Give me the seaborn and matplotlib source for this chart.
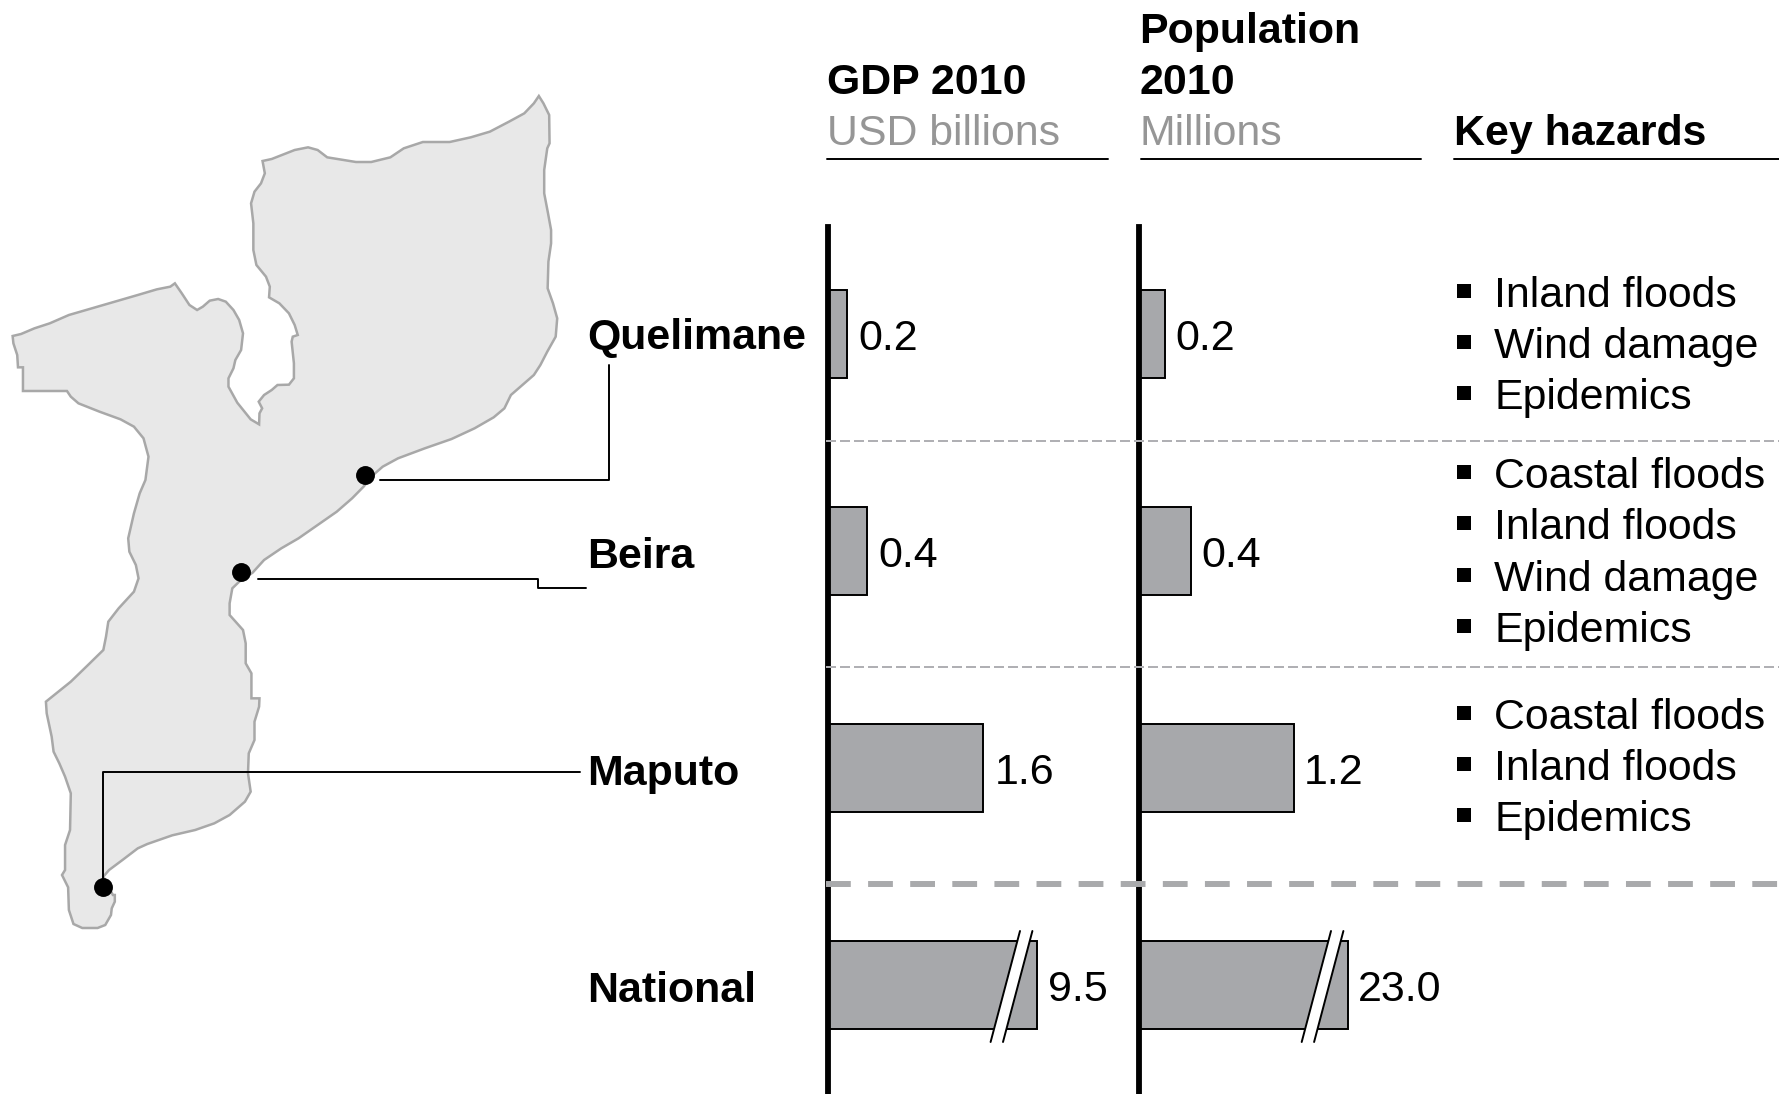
import numpy as np
import pandas as pd
import matplotlib
matplotlib.use('Agg')
import matplotlib.pyplot as plt
import seaborn as sns

# chart values
cities = ['Quelimane', 'Beira', 'Maputo', 'National']
gdp = [0.2, 0.4, 1.6, 9.5]
population = [0.2, 0.4, 1.2, 23.0]
hazards = [
	['Inland floods', 'Wind damage', 'Epidemics'],
	['Coastal floods', 'Inland floods', 'Wind damage', 'Epidemics'],
	['Coastal floods', 'Inland floods', 'Epidemics'],
]
hazard_y = [[296, 347, 398], [477, 528, 580, 631], [718, 769, 820]]

# map outline, traced in crop coordinates (see to_px)
outline_east = [(1408,48),(1420,70),(1435,105),(1436,190),(1430,205),(1422,270),(1422,340),(1432,400),(1440,450),(1440,490),(1433,545),(1431,625),(1445,670),(1456,715),(1452,770),(1430,815),(1412,855),(1395,885),(1365,915),(1335,945),(1318,985),(1290,1012),(1240,1045),(1180,1077),(1110,1105),(1040,1135),(1000,1160),(975,1185)]
outline_south = [(950,20),(920,55),(880,95),(830,135),(780,175),(735,205),(690,240),(660,278),(625,305),(607,325),(600,370),(600,405),(635,450),(642,490),(642,550),(657,580),(657,655),(678,655),(677,680),(665,725),(665,780),(650,820),(648,880),(655,935),(640,965),(600,1005),(560,1030),(510,1050),(450,1066),(385,1092),(360,1105),(320,1140),(285,1170),(270,1190),(295,1245),(300,1245),(300,1265),(292,1285),(290,1305),(275,1335),(255,1344),(215,1344),(192,1332),(180,1290),(178,1222),(162,1185),(170,1170),(170,1095),(183,1050),(185,940),(170,890),(155,850),(140,815),(135,770),(122,700),(120,665),(185,605),(230,555),(270,510),(277,470),(283,425),(310,385),(350,335),(362,295),(355,255),(338,215),(335,175),(350,100),(365,40),(380,0)]
outline_west = [(388,1130),(375,1075),(350,1040),(315,1018),(260,995),(205,970),(185,950),(175,933),(60,933),(60,862),(47,862),(45,825),(35,790),(33,768),(55,762),(90,745),(130,730),(180,705),(240,685),(300,665),(360,645),(410,628),(445,620),(457,610),(475,640),(495,675),(515,690),(530,680),(548,662),(570,657),(590,665),(610,690),(625,720),(635,760),(630,810),(615,840),(610,865),(597,895),(597,920),(620,968),(655,1018),(677,1033),(678,1000),(685,985),(676,965),(690,945),(710,930),(725,915),(755,914),(768,895),(768,850),(762,785),(765,770),(778,765),(770,735),(755,700),(730,670),(703,652),(705,620),(695,590),(670,555),(662,510),(662,430),(656,370),(665,335),(682,310),(692,280),(686,243),(710,237),(770,210),(805,202),(830,210),(855,232),(930,246),(970,246),(1020,232),(1055,205),(1105,186),(1175,186),(1230,172),(1280,155),(1330,125),(1370,100),(1395,70)]

W, H = 1779, 1094
FS = 30.9
BAR = '#A7A8AB'
GREY = '#A9AAAC'


def to_px(points, y_off=0):
	pts = np.array(points, dtype=float)
	return np.column_stack([pts[:, 0] / 2.613, (pts[:, 1] + y_off) / 3 + 80])


def draw_bars(fig, df, col, left, unit, brk, squeeze, xmax, pad):
	# compressed scale past brk stands in for the broken national bar
	def forward(v):
		v = np.asarray(v, dtype=float)
		return np.where(v <= brk, v, brk + (v - brk) * squeeze)

	def inverse(v):
		v = np.asarray(v, dtype=float)
		return np.where(v <= brk, v, brk + (v - brk) / squeeze)

	width = float(forward(xmax)) * unit
	ax = fig.add_axes([left / W, 0, width / W, (H - 225) / H])
	ax.patch.set_alpha(0)
	sns.barplot(data=df, x=col, y='city', orient='h', ax=ax, color=BAR, saturation=1,
		width=0.405, edgecolor='black', linewidth=1.4)
	ax.set_xscale('function', functions=(forward, inverse))
	ax.set_xlim(0, xmax)
	ax.set_ylim(3.5, -0.5)
	labels = ax.bar_label(ax.containers[0], labels=[f'{v:.1f}' for v in df[col]], padding=pad,
		fontsize=31, color='black')
	for t in labels:
		t.xyann = (pad, -3.6)
	ax.set_xlabel('')
	ax.set_ylabel('')
	ax.set_xticks([])
	ax.set_yticks([])
	ax.minorticks_off()
	sns.despine(ax=ax, bottom=True)
	ax.spines['left'].set_linewidth(4.2)
	ax.spines['left'].set_color('black')
	ax.spines['left'].set_bounds(3.5, -0.49)
	return ax


sns.set_theme(style='white')
plt.rcParams['font.family'] = ['Liberation Sans', 'DejaVu Sans']

df = pd.DataFrame({'city': cities, 'gdp': gdp, 'population': population})
fig = plt.figure(figsize=(W / 100, H / 100), dpi=100, facecolor='white')

draw_bars(fig, df, 'gdp', 828, 97, 1.8, 0.046, 12, 8)
draw_bars(fig, df, 'population', 1139, 129, 1.4, 0.0102, 30, 7.4)

# overlay in pixel coordinates for map, header and notes
ov = fig.add_axes([0, 0, 1, 1])
ov.set_xlim(0, W)
ov.set_ylim(H, 0)
ov.axis('off')
ov.patch.set_alpha(0)

land = np.vstack([to_px(outline_east), to_px(outline_south, 1200), to_px(outline_west)])
ov.fill(land[:, 0], land[:, 1], facecolor='#E8E8E8', edgecolor='#A8A8A8', linewidth=1.8, zorder=1)

# leader lines and city dots
ov.plot([380, 609, 609], [480, 480, 365], color='black', lw=1.4, zorder=3)
ov.plot([258, 538, 538, 586], [579, 579, 588, 588], color='black', lw=1.4, zorder=3)
ov.plot([103, 103, 580], [880, 772, 772], color='black', lw=1.4, zorder=3)
ov.plot([365, 241, 103], [475, 572.3, 887], 'o', color='black', ms=13.6, mew=0, zorder=4)

for name, y in zip(cities, [338.5, 556.5, 773.5, 990.5]):
	ov.text(587.5, y, name, fontsize=FS, fontweight='bold', va='center', ha='left', color='black')

# header
for x, y, s, w, c in [
	(827, 94, 'GDP 2010', 'bold', 'black'),
	(827, 145, 'USD billions', 'normal', '#969696'),
	(1139.5, 43, 'Population', 'bold', 'black'),
	(1139.5, 94, '2010', 'bold', 'black'),
	(1139.5, 145, 'Millions', 'normal', '#969696'),
	(1454, 145, 'Key hazards', 'bold', 'black'),
]:
	ov.text(x, y, s, fontsize=FS, fontweight=w, color=c, va='baseline', ha='left')
for x0, x1 in [(827, 1108), (1141, 1421), (1454, 1779)]:
	ov.plot([x0, x1], [159, 159], color='black', lw=1.4)

# row separators
for y in [441, 667]:
	ov.plot([826, W], [y, y], color='#B0B0B4', lw=1.44, ls=(0, (5, 2)), zorder=5)
ov.plot([826, W], [884, 884], color=GREY, lw=4.3, ls=(0, (4.15, 2.9)), zorder=5)

# hazard lists
for names, ys in zip(hazards, hazard_y):
	for name, y in zip(names, ys):
		ov.text(1494, y, name, fontsize=FS, color='black', va='center', ha='left')
		ov.plot([1463.5], [y - 5.5], 's', color='black', ms=9.6, mew=0)

# axis break marks on the national bars
for x_top, x_bot in [(1020, 990.6), (1331, 1301.7)]:
	dx = 12.4
	ov.fill([x_top, x_top + dx, x_bot + dx, x_bot], [931, 931, 1042, 1042], color='white', lw=0, zorder=6)
	ov.plot([x_top, x_bot], [931, 1042], color='black', lw=1.4, zorder=7)
	ov.plot([x_top + dx, x_bot + dx], [931, 1042], color='black', lw=1.4, zorder=7)

fig.savefig('out.png', dpi=100)
